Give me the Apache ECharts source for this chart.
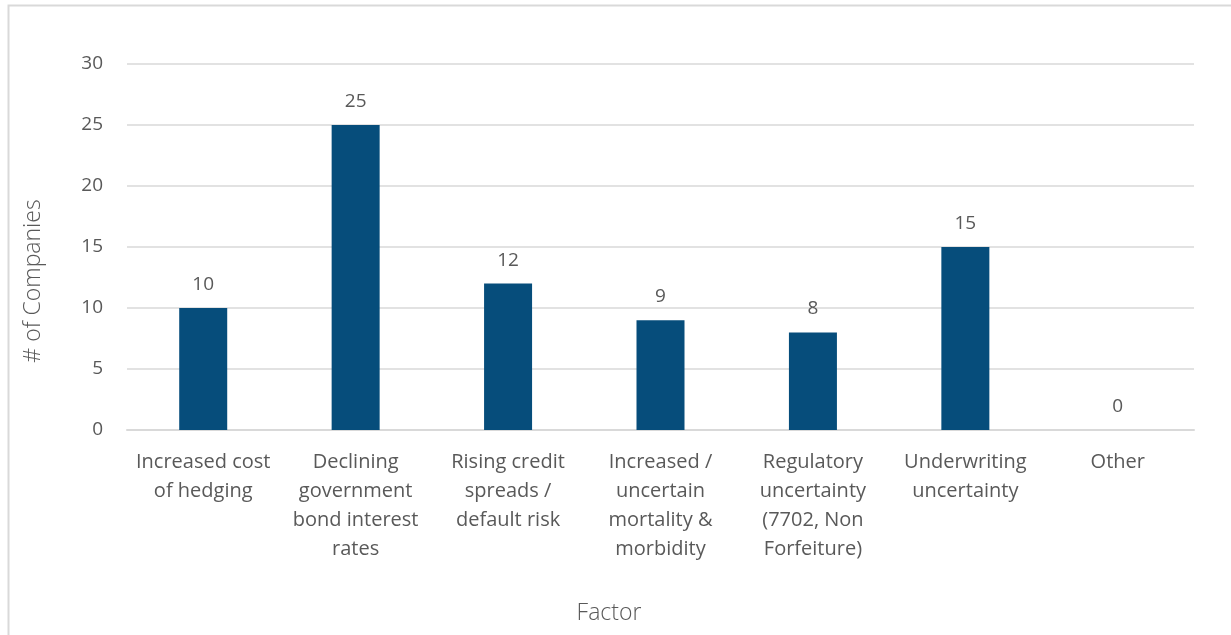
<!DOCTYPE html>
<html>
<head>
<meta charset="utf-8">
<script src="https://cdn.jsdelivr.net/npm/echarts@6/dist/echarts.min.js"></script>
<style>
  html, body { margin: 0; padding: 0; background: #ffffff; }
  #chart { width: 1231px; height: 635px; }
</style>
</head>
<body>
<div id="chart"></div>
<script>
// Factors cited, with the number of companies citing each
const factors = [
  'Increased cost\nof hedging',
  'Declining\ngovernment\nbond interest\nrates',
  'Rising credit\nspreads /\ndefault risk',
  'Increased /\nuncertain\nmortality &\nmorbidity',
  'Regulatory\nuncertainty\n(7702, Non\nForfeiture)',
  'Underwriting\nuncertainty',
  'Other'
];
const companies = [10, 25, 12, 9, 8, 15, 0];

const yAxisTitle = '# of Companies';
const xAxisTitle = 'Factor';

const textColor = '#595959';
const fontFamily = '"Open Sans", "Noto Sans", sans-serif';

const chart = echarts.init(document.getElementById('chart'), null, { renderer: 'canvas' });

chart.setOption({
  animation: false,
  backgroundColor: '#ffffff',
  graphic: [
    {
      // chart frame
      type: 'rect',
      left: 6,
      top: 3,
      shape: { width: 1240, height: 650 },
      style: { fill: 'none', stroke: '#d9d9d9', lineWidth: 2 },
      silent: true
    },
    {
      // vertical axis title, centred on the chart area
      type: 'text',
      x: 33,
      y: 281,
      rotation: Math.PI / 2,
      style: {
        text: yAxisTitle,
        fill: textColor,
        font: '300 23px ' + fontFamily,
        align: 'center',
        verticalAlign: 'middle'
      },
      silent: true
    },
    {
      // horizontal axis title
      type: 'text',
      x: 609,
      y: 613,
      style: {
        text: xAxisTitle,
        fill: textColor,
        font: '300 23px ' + fontFamily,
        align: 'center',
        verticalAlign: 'middle'
      },
      silent: true
    }
  ],
  grid: { left: 127, right: 37, top: 64, bottom: 205 },
  xAxis: {
    type: 'category',
    data: factors,
    axisLine: { lineStyle: { color: '#d9d9d9', width: 2 } },
    axisTick: { show: false },
    axisLabel: {
      color: textColor,
      fontSize: 20,
      fontFamily,
      fontWeight: 400,
      lineHeight: 29,
      margin: 18,
      interval: 0
    }
  },
  yAxis: {
    type: 'value',
    min: 0,
    max: 30,
    interval: 5,
    axisLine: { show: false },
    axisTick: { show: false },
    splitLine: { lineStyle: { color: '#d9d9d9', width: 1.5 } },
    axisLabel: {
      color: textColor,
      fontSize: 19,
      fontFamily,
      fontWeight: 400,
      margin: 24
    }
  },
  series: [{
    type: 'bar',
    data: companies,
    barWidth: 48,
    itemStyle: { color: '#064d7b' },
    label: {
      show: true,
      position: 'top',
      distance: 14,
      color: textColor,
      fontSize: 19,
      fontFamily,
      fontWeight: 400
    }
  }]
});
</script>
</body>
</html>
